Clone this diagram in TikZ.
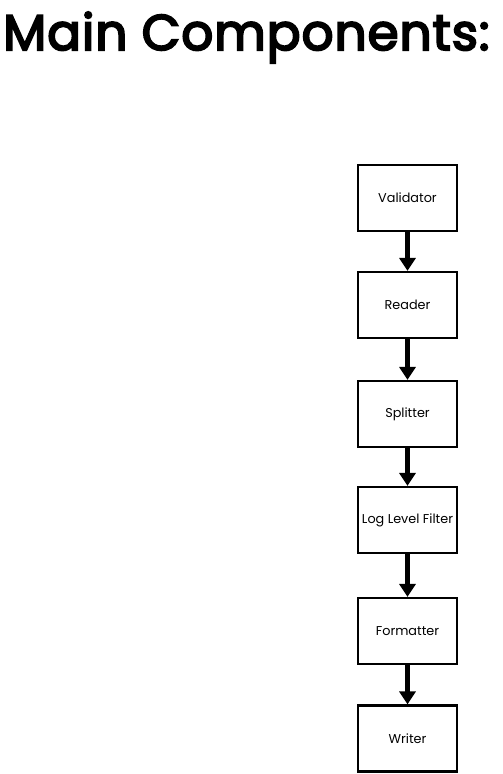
\documentclass[tikz,border=0pt]{standalone}
\usepackage{fontspec}
\setmainfont{Poppins}
\newfontfamily\headfont{Poppins}[FakeBold=4, LetterSpace=2]
\usetikzlibrary{arrows.meta, positioning}

\begin{document}
\begin{tikzpicture}[x=1pt, y=-1pt,
  comp/.style={draw, line width=2.2pt, minimum width=99pt, minimum height=66pt,
    inner sep=0pt, font=\fontsize{12.8}{14}\selectfont},
  flow/.style={line width=4.2pt, -{Triangle[length=13pt, width=16pt]}}]
\useasboundingbox (0,0) rectangle (503,774);
\node[anchor=base west, inner sep=0pt, font=\fontsize{50}{60}\headfont] (title) at (3,50) {Main Components:};
% pipeline
\node[comp] (validator) at (407.5,198) {Validator};
\node[comp] (reader) at (407.5,305) {Reader};
\node[comp] (splitter) at (407.5,414) {Splitter};
\node[comp] (filter) at (407.5,520) {Log Level Filter};
\node[comp] (formatter) at (407.5,631) {Formatter};
\node[comp] (writer) at (407.5,738.5) {Writer};
\foreach \a/\b in {validator/reader, reader/splitter, splitter/filter, filter/formatter, formatter/writer}
  \draw[flow] (\a) -- (\b);
\end{tikzpicture}
\end{document}
